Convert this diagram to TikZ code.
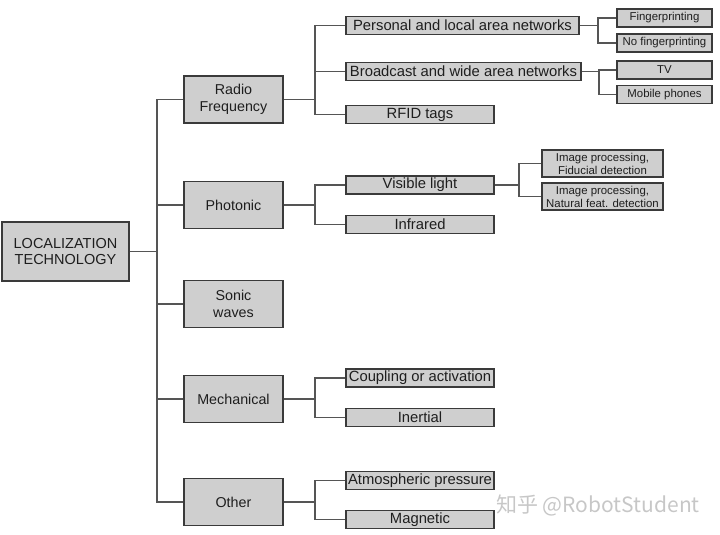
\documentclass[tikz,border=0pt]{standalone}
\usepackage{fontspec}
\setmainfont{Liberation Sans}
\newfontfamily\cjk{Noto Sans CJK SC}
\definecolor{boxfill}{HTML}{CFCFCF}
\definecolor{boxline}{HTML}{3A3A3A}
\definecolor{wireline}{HTML}{555555}
\definecolor{inktext}{HTML}{1E1E1E}
\begin{document}
\begin{tikzpicture}[x=1pt,y=-1pt,
    box/.style={draw=boxline,fill=boxfill,line width=1.2pt,inner sep=0pt,
      align=center,text=inktext},
    topbox/.style={box,minimum width=127pt,minimum height=59pt,
      font=\fontsize{14.5}{15.5}\selectfont},
    mainbox/.style={box,minimum width=99pt,minimum height=47pt,
      font=\fontsize{14.3}{16.5}\selectfont},
    subbox/.style={box,minimum width=148pt,minimum height=18pt,
      font=\fontsize{14.8}{16.5}\selectfont},
    leafbox/.style={box,minimum width=95pt,minimum height=18pt,
      font=\fontsize{11.4}{13}\selectfont},
    wire/.style={draw=wireline,line width=1.2pt}]
  \useasboundingbox (0,0) rectangle (720,535);
  \draw
    (65.5,251.5) node[topbox] (loc){LOCALIZATION\\TECHNOLOGY}
    (233.5,99.5) node[mainbox] (rf){Radio\\Frequency}
    (233.5,205) node[mainbox] (ph){Photonic}
    (233.5,304) node[mainbox] (so){Sonic\\waves}
    (233.5,399) node[mainbox] (me){Mechanical}
    (233.5,502) node[mainbox] (ot){Other}
    (462.5,25.5) node[subbox,minimum width=233pt] (pan){Personal and local area networks}
    (463.5,71.5) node[subbox,minimum width=235pt] (bc){Broadcast and wide area networks}
    (420,114.5) node[subbox] (rfid){RFID tags}
    (420,185) node[subbox] (vl){Visible light}
    (420,224.5) node[subbox] (ir){Infrared}
    (420,378) node[subbox] (cp){Coupling or activation}
    (420,417.5) node[subbox] (in){Inertial}
    (420,480.5) node[subbox] (at){Atmospheric pressure}
    (420,519.5) node[subbox] (mg){Magnetic}
    (664.5,18) node[leafbox] (fp){Fingerprinting}
    (664.5,43) node[leafbox] (nfp){No fingerprinting}
    (664.5,70) node[leafbox] (tv){TV}
    (664.5,94.5) node[leafbox] (mob){Mobile phones}
    (602.5,163.5) node[leafbox,minimum width=121pt,minimum height=27pt] (fid){Image processing,\\Fiducial detection}
    (602.5,196.5) node[leafbox,minimum width=121pt,minimum height=27pt] (nat){Image processing,\\Natural feat. detection};
  \coordinate (trunk) at (157,251.5);
  \coordinate (rfj) at (315,99.5);
  \coordinate (phj) at (315,205);
  \coordinate (mej) at (315,399);
  \coordinate (otj) at (315,502);
  \coordinate (panj) at (598,25.5);
  \coordinate (bcj) at (599,71.5);
  \coordinate (vlj) at (519,185);
  \begin{scope}[wire]
    \draw (loc) to (trunk);
    \draw (trunk) |- (rf.west);
    \draw (trunk) |- (ph.west);
    \draw (trunk) |- (so.west);
    \draw (trunk) |- (me.west);
    \draw (trunk) |- (ot.west);
    \draw (rf) to (rfj);
    \draw (rfj) |- (pan.west);
    \draw (rfj) |- (bc.west);
    \draw (rfj) |- (rfid.west);
    \draw (ph) to (phj);
    \draw (phj) |- (vl.west);
    \draw (phj) |- (ir.west);
    \draw (me) to (mej);
    \draw (mej) |- (cp.west);
    \draw (mej) |- (in.west);
    \draw (ot) to (otj);
    \draw (otj) |- (at.west);
    \draw (otj) |- (mg.west);
    \draw (pan) to (panj);
    \draw (panj) |- (fp.west);
    \draw (panj) |- (nfp.west);
    \draw (bc) to (bcj);
    \draw (bcj) |- (tv.west);
    \draw (bcj) |- (mob.west);
    \draw (vl) to (vlj);
    \draw (vlj) |- (fid.west);
    \draw (vlj) |- (nat.west);
  \end{scope}
  \node[text=black!22,font=\cjk\fontsize{21}{24}\selectfont] (mark) at (598,505) {知乎 @RobotStudent};
\end{tikzpicture}
\end{document}
